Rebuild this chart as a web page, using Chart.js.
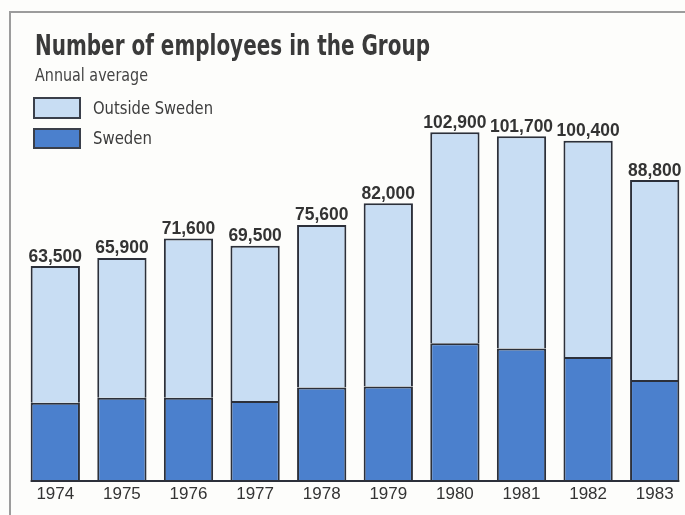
<!DOCTYPE html>
<html>
<head>
<meta charset="utf-8">
<script src="https://cdn.jsdelivr.net/npm/chart.js@4/dist/chart.umd.min.js"></script>
<style>
  html, body { margin: 0; padding: 0; background: #fdfdfb; overflow: hidden; }
  #wrap { width: 685px; height: 515px; overflow: hidden; }
  canvas { display: block; }
</style>
</head>
<body>
<div id="wrap"><canvas id="employees" width="700" height="515"></canvas></div>
<script>
// annual average headcount, split by location
const years = ['1974', '1975', '1976', '1977', '1978', '1979', '1980', '1981', '1982', '1983'];
const sweden = [23300, 24800, 24800, 23800, 27800, 28100, 40800, 39300, 36800, 30000];
const outsideSweden = [40200, 41100, 46800, 45700, 47800, 53900, 62100, 62400, 63600, 58800];
const yTicks = [0, 110000];

const LIGHT = '#c8ddf3';
const DARK = '#4b80cd';
const EDGE = '#2c303a';
const INK = '#333333';

const narrow = '"Liberation Sans Narrow", "DejaVu Sans Condensed", "Liberation Sans", sans-serif';
const plain = '"Liberation Sans", Arial, sans-serif';

// squeeze text horizontally to the width the condensed face would take
function fitText(ctx, text, x, y, width) {
  const w = ctx.measureText(text).width;
  ctx.save();
  ctx.translate(x, y);
  ctx.scale(width / w, 1);
  ctx.fillText(text, 0, 0);
  ctx.restore();
}

const decor = {
  id: 'decor',
  beforeDraw(chart) {
    const ctx = chart.ctx;
    ctx.save();
    ctx.fillStyle = '#fdfdfb';
    ctx.fillRect(0, 0, chart.width, chart.height);
    // frame (only top and left edges fall inside the page)
    ctx.strokeStyle = '#9c9c9c';
    ctx.lineWidth = 2;
    ctx.beginPath();
    ctx.moveTo(10, chart.height);
    ctx.lineTo(10, 12);
    ctx.lineTo(chart.width, 12);
    ctx.stroke();
    ctx.restore();
  },
  afterDatasetsDraw(chart) {
    const ctx = chart.ctx;
    const low = chart.getDatasetMeta(0).data;
    const high = chart.getDatasetMeta(1).data;
    const bottom = chart.chartArea.bottom;
    ctx.save();
    // baseline from the first bar to the last
    const first = low[0], last = low[low.length - 1];
    ctx.strokeStyle = EDGE;
    ctx.lineWidth = 2;
    ctx.beginPath();
    ctx.moveTo(first.x - first.width / 2, bottom - 1);
    ctx.lineTo(last.x + last.width / 2, bottom - 1);
    ctx.stroke();
    // totals above each bar
    ctx.fillStyle = INK;
    ctx.font = 'bold 18px ' + plain;
    ctx.textBaseline = 'alphabetic';
    high.forEach((bar, i) => {
      const total = sweden[i] + outsideSweden[i];
      const label = total.toLocaleString('en-US');
      const w = ctx.measureText(label).width * 0.97;
      fitText(ctx, label, bar.x - w / 2, bar.y - 4.5, w);
    });
    ctx.restore();
  },
  afterDraw(chart) {
    const ctx = chart.ctx;
    ctx.save();
    ctx.textBaseline = 'alphabetic';
    ctx.fillStyle = '#3a3a3a';
    ctx.font = 'bold 29px ' + narrow;
    fitText(ctx, 'Number of employees in the Group', 35, 55, 395);
    ctx.fillStyle = '#444444';
    ctx.font = '17px ' + narrow;
    fitText(ctx, 'Annual average', 35, 81, 113);

    // legend
    const items = [
      { text: 'Outside Sweden', fill: chart.data.datasets[1].backgroundColor, box: [34, 98, 46, 20], base: 113.5, width: 120 },
      { text: 'Sweden', fill: chart.data.datasets[0].backgroundColor, box: [34, 129, 46, 19], base: 144, width: 59 }
    ];
    items.forEach(it => {
      ctx.fillStyle = it.fill;
      ctx.fillRect(...it.box);
      ctx.strokeStyle = '#3a3f4a';
      ctx.lineWidth = 2;
      ctx.strokeRect(...it.box);
      ctx.fillStyle = '#3d3d3d';
      ctx.font = '17px ' + narrow;
      fitText(ctx, it.text, 93, it.base, it.width);
    });
    ctx.restore();
  }
};

new Chart(document.getElementById('employees'), {
  type: 'bar',
  data: {
    labels: years,
    datasets: [
      {
        label: 'Sweden',
        data: sweden,
        backgroundColor: DARK,
        borderColor: EDGE,
        borderWidth: 2,
        borderSkipped: false,
        barPercentage: 0.74,
        categoryPercentage: 1
      },
      {
        label: 'Outside Sweden',
        data: outsideSweden,
        backgroundColor: LIGHT,
        borderColor: EDGE,
        borderWidth: 2,
        borderSkipped: 'bottom',
        barPercentage: 0.74,
        categoryPercentage: 1
      }
    ]
  },
  options: {
    responsive: false,
    animation: false,
    layout: { padding: { left: 22, right: 12, top: 108, bottom: 0 } },
    plugins: {
      legend: { display: false },
      tooltip: { enabled: false }
    },
    scales: {
      x: {
        stacked: true,
        grid: { display: false, drawTicks: false },
        border: { display: false },
        ticks: { color: INK, font: { family: plain, size: 17 }, padding: 2 },
        afterFit(scale) { scale.height = 33; }
      },
      y: {
        stacked: true,
        display: false,
        min: yTicks[0],
        max: yTicks[1]
      }
    }
  },
  plugins: [decor]
});
</script>
</body>
</html>
